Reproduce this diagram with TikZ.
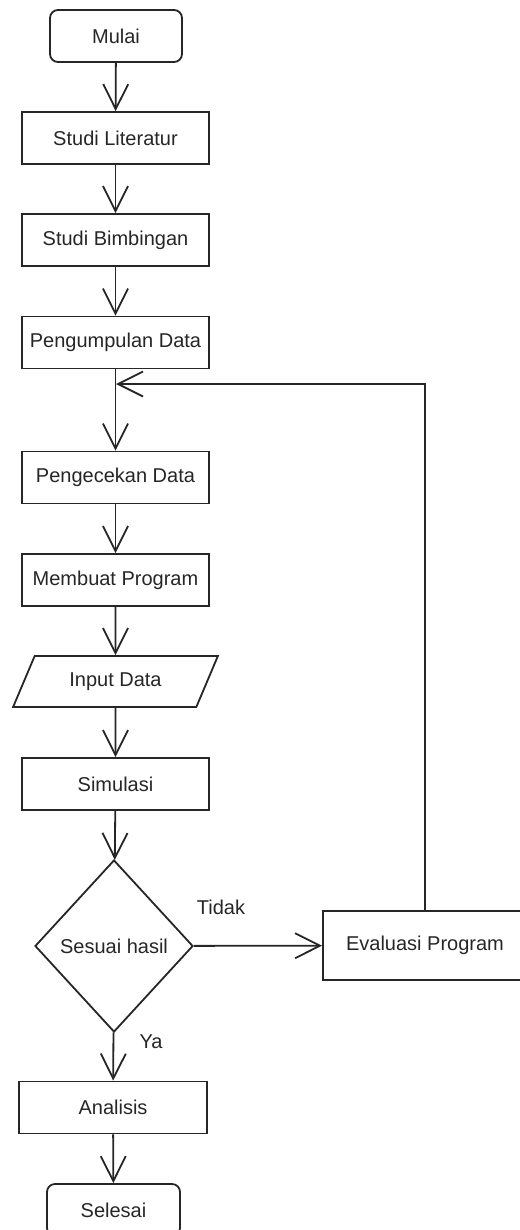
\documentclass[tikz,border=0pt]{standalone}
\usepackage{fontspec}
\setmainfont{Liberation Sans}
\usetikzlibrary{arrows.meta}
\usetikzlibrary{shapes.geometric}

\begin{document}
\begin{tikzpicture}[x=0.5pt, y=-0.5pt, >={Straight Barb[length=12.5pt, width=12.5pt]},
    every node/.style={text=black!85, font=\fontsize{10}{12}\selectfont},
    proses/.style={draw=black!85, line width=0.9pt, minimum width=93.5pt, minimum height=26pt, inner sep=0pt},
    terminal/.style={proses, rounded corners=4pt, minimum width=66pt},
    masukan/.style={trapezium, trapezium left angle=55.5, trapezium right angle=124.5, trapezium stretches=true,
        draw=black!85, line width=0.9pt, minimum width=102.5pt, minimum height=25.5pt, inner sep=0pt},
    keputusan/.style={diamond, draw=black!85, line width=0.9pt, minimum width=79pt, minimum height=86pt, inner sep=0pt},
    alur/.style={->, draw=black!85, line width=0.9pt}]

    \useasboundingbox (0,0) rectangle (519,1230);

    \node[terminal] (mulai) at (116,36) {Mulai};
    \node[proses] (literatur) at (115.5,138) {Studi Literatur};
    \node[proses] (bimbingan) at (115.5,240) {Studi Bimbingan};
    \node[proses] (pengumpulan) at (115.5,342.5) {Pengumpulan Data};
    \node[proses] (pengecekan) at (115.5,477.5) {Pengecekan Data};
    \node[proses] (program) at (115.5,580) {Membuat Program};
    \node[masukan] (input) at (115.5,681.5) {Input Data};
    \node[proses] (simulasi) at (115.5,784) {Simulasi};
    \node[keputusan] (sesuai) at (114,946) {Sesuai hasil};
    \node[proses, minimum width=102pt, minimum height=34.5pt] (evaluasi) at (425,945.5) {Evaluasi Program};
    \node[proses, minimum width=94pt] (analisis) at (113,1107.5) {Analisis};
    \node[terminal, minimum width=66.5pt] (selesai) at (113.5,1210) {Selesai};

    \draw[alur] (mulai) -- (literatur);
    \draw[alur] (literatur) -- (bimbingan);
    \draw[alur] (bimbingan) -- (pengumpulan);
    \draw[alur] (pengumpulan) -- (pengecekan);
    \draw[alur] (pengecekan) -- (program);
    \draw[alur] (program) -- (input.north);
    \draw[alur] (input.south) -- (simulasi);
    \draw[alur] (simulasi) -- (sesuai);
    \draw[alur] (sesuai) -- (evaluasi);
    \draw[alur] (sesuai) -- (analisis);
    \draw[alur] (analisis) -- (selesai);

    % kembali ke pengecekan data
    \coordinate (gabung) at (116,384);
    \draw[alur] (evaluasi.north) |- (gabung);

    \node (tidak) at (221,907) {Tidak};
    \node (ya) at (151,1042) {Ya};

\end{tikzpicture}
\end{document}
